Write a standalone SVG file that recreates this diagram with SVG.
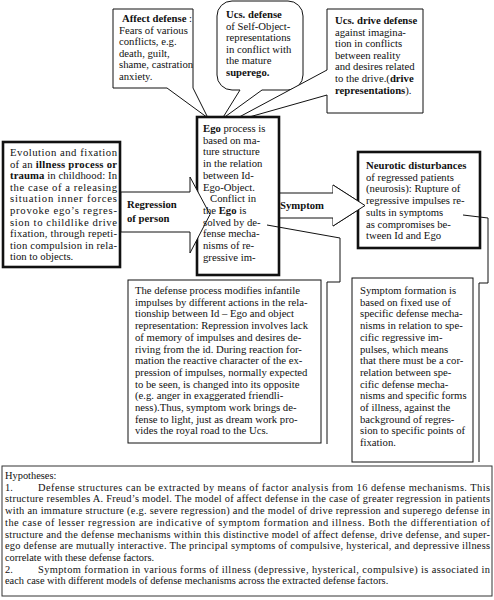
<svg xmlns="http://www.w3.org/2000/svg" width="494" height="600" viewBox="0 0 494 600">
<style>
text{font-family:"Liberation Serif","Times New Roman",serif;font-size:10.7px;fill:#111}
.b{font-weight:bold}
.box{fill:#fff;stroke:#111;stroke-width:1}
.thick{fill:#fff;stroke:#111;stroke-width:2.6}
.ln{fill:none;stroke:#111;stroke-width:1}
.hyp{font-size:10.4px}
</style>
<rect width="494" height="600" fill="#fff"/>

<g id="affect-defense">
<path class="box" d="M113,9 H193 V88 L208,118 L167,88 H113 Z"/>
<text x="122" y="22"><tspan class="b">Affect defense</tspan> :</text>
<text x="119" y="33.6">Fears of various</text>
<text x="119" y="45.2">conflicts, e.g.</text>
<text x="119" y="56.8">death, guilt,</text>
<text x="119" y="68.4">shame, castration</text>
<text x="119" y="80">anxiety.</text>
</g>

<g id="ucs-defense">
<path class="box" d="M232,1 H288 A15,15 0 0 1 303,16 V75 A15,15 0 0 1 288,90 H262 L222,119 L240,90 H232 A15,15 0 0 1 217,75 V16 A15,15 0 0 1 232,1 Z"/>
<text x="226" y="18" class="b">Ucs. defense</text>
<text x="226" y="29.6">of Self-Object-</text>
<text x="226" y="41.2">representations</text>
<text x="226" y="52.8">in conflict with</text>
<text x="226" y="64.4">the mature</text>
<text x="226" y="76" class="b">superego.</text>
</g>

<g id="drive-defense">
<path class="box" d="M327,9 H423 V113 H327 V95 L228,123 L327,70 Z"/>
<text x="335" y="24" class="b">Ucs. drive defense</text>
<text x="335" y="35.6">against imagina-</text>
<text x="335" y="47.2">tion in conflicts</text>
<text x="335" y="58.8">between reality</text>
<text x="335" y="70.4">and desires related</text>
<text x="335" y="82">to the drive.(<tspan class="b">drive</tspan></text>
<text x="335" y="93.6"><tspan class="b">representations</tspan>).</text>
</g>

<g id="illness-process">
<rect class="thick" x="3" y="142" width="117" height="125"/>
<text x="10" y="156" textLength="107" lengthAdjust="spacing">Evolution and fixation</text>
<text x="10" y="167.6" textLength="107" lengthAdjust="spacing">of an <tspan class="b">illness process or</tspan></text>
<text x="10" y="179.2" textLength="107" lengthAdjust="spacing"><tspan class="b">trauma</tspan> in childhood: In</text>
<text x="10" y="190.8" textLength="107" lengthAdjust="spacing">the case of a releasing</text>
<text x="10" y="202.4" textLength="107" lengthAdjust="spacing">situation inner forces</text>
<text x="10" y="214" textLength="107" lengthAdjust="spacing">provoke ego’s regres-</text>
<text x="10" y="225.6" textLength="107" lengthAdjust="spacing">sion to childlike drive</text>
<text x="10" y="237.2" textLength="107" lengthAdjust="spacing">fixation, through repeti-</text>
<text x="10" y="248.8" textLength="107" lengthAdjust="spacing">tion compulsion in rela-</text>
<text x="10" y="260.4">tion to objects.</text>
</g>

<g id="symptom-arrow">
<polygon class="box" points="273,193 333,193 333,185 365,205.5 333,226 333,218 273,218"/>
<text x="280" y="209" class="b">Symptom</text>
</g>

<g id="ego-process">
<rect class="thick" x="197" y="117" width="82" height="158"/>
</g>

<g id="regression-arrow">
<polygon class="box" points="121,192 190,192 190,177 210,214.5 190,253 190,232 121,232"/>
<text x="127" y="208" class="b">Regression</text>
<text x="127" y="222" class="b">of person</text>
</g>

<g id="ego-process-text">
<text x="203" y="132"><tspan class="b">Ego</tspan> process is</text>
<text x="203" y="143.7">based on ma-</text>
<text x="203" y="155.4">ture structure</text>
<text x="203" y="167.1">in the relation</text>
<text x="203" y="178.8">between Id-</text>
<text x="203" y="190.5">Ego-Object.</text>
<text x="210" y="202.2">Conflict in</text>
<text x="203" y="213.9">the <tspan class="b">Ego</tspan> is</text>
<text x="203" y="225.6">solved by de-</text>
<text x="203" y="237.3">fense mecha-</text>
<text x="203" y="249">nisms of re-</text>
<text x="203" y="260.7">gressive im-</text>
</g>

<g id="neurotic-disturbances">
<rect class="thick" x="358" y="152" width="122" height="96"/>
</g>

<g id="symptom-arrow-tip">
<polygon class="box" points="333,185 365,205.5 333,226" style="stroke:none"/>
<polyline class="ln" points="333,185 365,205.5 333,226"/>
</g>

<g id="neurotic-text">
<text x="366" y="169" class="b">Neurotic disturbances</text>
<text x="366" y="180.7">of regressed patients</text>
<text x="366" y="192.4">(neurosis): Rupture of</text>
<text x="366" y="204.1">regressive impulses re-</text>
<text x="366" y="215.8">sults in symptoms</text>
<text x="366" y="227.5">as compromises be-</text>
<text x="366" y="239.2">tween Id and Ego</text>
</g>

<g id="connectors">
<polyline class="ln" points="267,225 340,238 340,282 327,282 327,444"/>
<polyline class="ln" points="463,215 488,218 488,283 479,283 479,462"/>
</g>

<g id="defense-process">
<rect class="box" x="128" y="280" width="193" height="163"/>
<text x="135" y="294">The defense process modifies infantile</text>
<text x="135" y="305.7">impulses by different actions in the rela-</text>
<text x="135" y="317.4">tionship between Id – Ego and object</text>
<text x="135" y="329.1">representation: Repression involves lack</text>
<text x="135" y="340.8">of memory of impulses and desires de-</text>
<text x="135" y="352.5">riving from the id. During reaction for-</text>
<text x="135" y="364.2">mation the reactive character of the ex-</text>
<text x="135" y="375.9">pression of impulses, normally expected</text>
<text x="135" y="387.6">to be seen, is changed into its opposite</text>
<text x="135" y="399.3">(e.g. anger in exaggerated friendli-</text>
<text x="135" y="411">ness).Thus, symptom work brings de-</text>
<text x="135" y="422.7">fense to light, just as dream work pro-</text>
<text x="135" y="434.4">vides the royal road to the Ucs.</text>
</g>

<g id="symptom-formation">
<rect class="box" x="352" y="278" width="121" height="184"/>
<text x="360" y="294">Symptom formation is</text>
<text x="360" y="305.7">based on fixed use of</text>
<text x="360" y="317.4">specific defense mecha-</text>
<text x="360" y="329.1">nisms in relation to spe-</text>
<text x="360" y="340.8">cific regressive im-</text>
<text x="360" y="352.5">pulses, which means</text>
<text x="360" y="364.2">that there must be a cor-</text>
<text x="360" y="375.9">relation between spe-</text>
<text x="360" y="387.6">cific defense mecha-</text>
<text x="360" y="399.3">nisms and specific forms</text>
<text x="360" y="411">of illness, against the</text>
<text x="360" y="422.7">background of regres-</text>
<text x="360" y="434.4">sion to specific points of</text>
<text x="360" y="446.1">fixation.</text>
</g>

<g id="hypotheses">
<rect class="box" x="2" y="466" width="490" height="130" style="stroke:#333"/>
<text class="hyp" x="5" y="479">Hypotheses:</text>
<text class="hyp" x="5" y="490.7">1.</text>
<text class="hyp" x="38" y="490.7" textLength="452" lengthAdjust="spacing">Defense structures can be extracted by means of factor analysis from 16 defense mechanisms. This</text>
<text class="hyp" x="5" y="502.4" textLength="485" lengthAdjust="spacing">structure resembles A. Freud’s model. The model of affect defense in the case of greater regression in patients</text>
<text class="hyp" x="5" y="514.1" textLength="485" lengthAdjust="spacing">with an immature structure (e.g. severe regression) and the model of drive repression and superego defense in</text>
<text class="hyp" x="5" y="525.8" textLength="485" lengthAdjust="spacing">the case of lesser regression are indicative of symptom formation and illness. Both the differentiation of</text>
<text class="hyp" x="5" y="537.5" textLength="485" lengthAdjust="spacing">structure and the defense mechanisms within this distinctive model of affect defense, drive defense, and super-</text>
<text class="hyp" x="5" y="549.2" textLength="485" lengthAdjust="spacing">ego defense are mutually interactive. The principal symptoms of compulsive, hysterical, and depressive illness</text>
<text class="hyp" x="5" y="560.9">correlate with these defense factors.</text>
<text class="hyp" x="5" y="572.6">2.</text>
<text class="hyp" x="38" y="572.6" textLength="452" lengthAdjust="spacing">Symptom formation in various forms of illness (depressive, hysterical, compulsive) is associated in</text>
<text class="hyp" x="5" y="584.3">each case with different models of defense mechanisms across the extracted defense factors.</text>
</g>
</svg>
